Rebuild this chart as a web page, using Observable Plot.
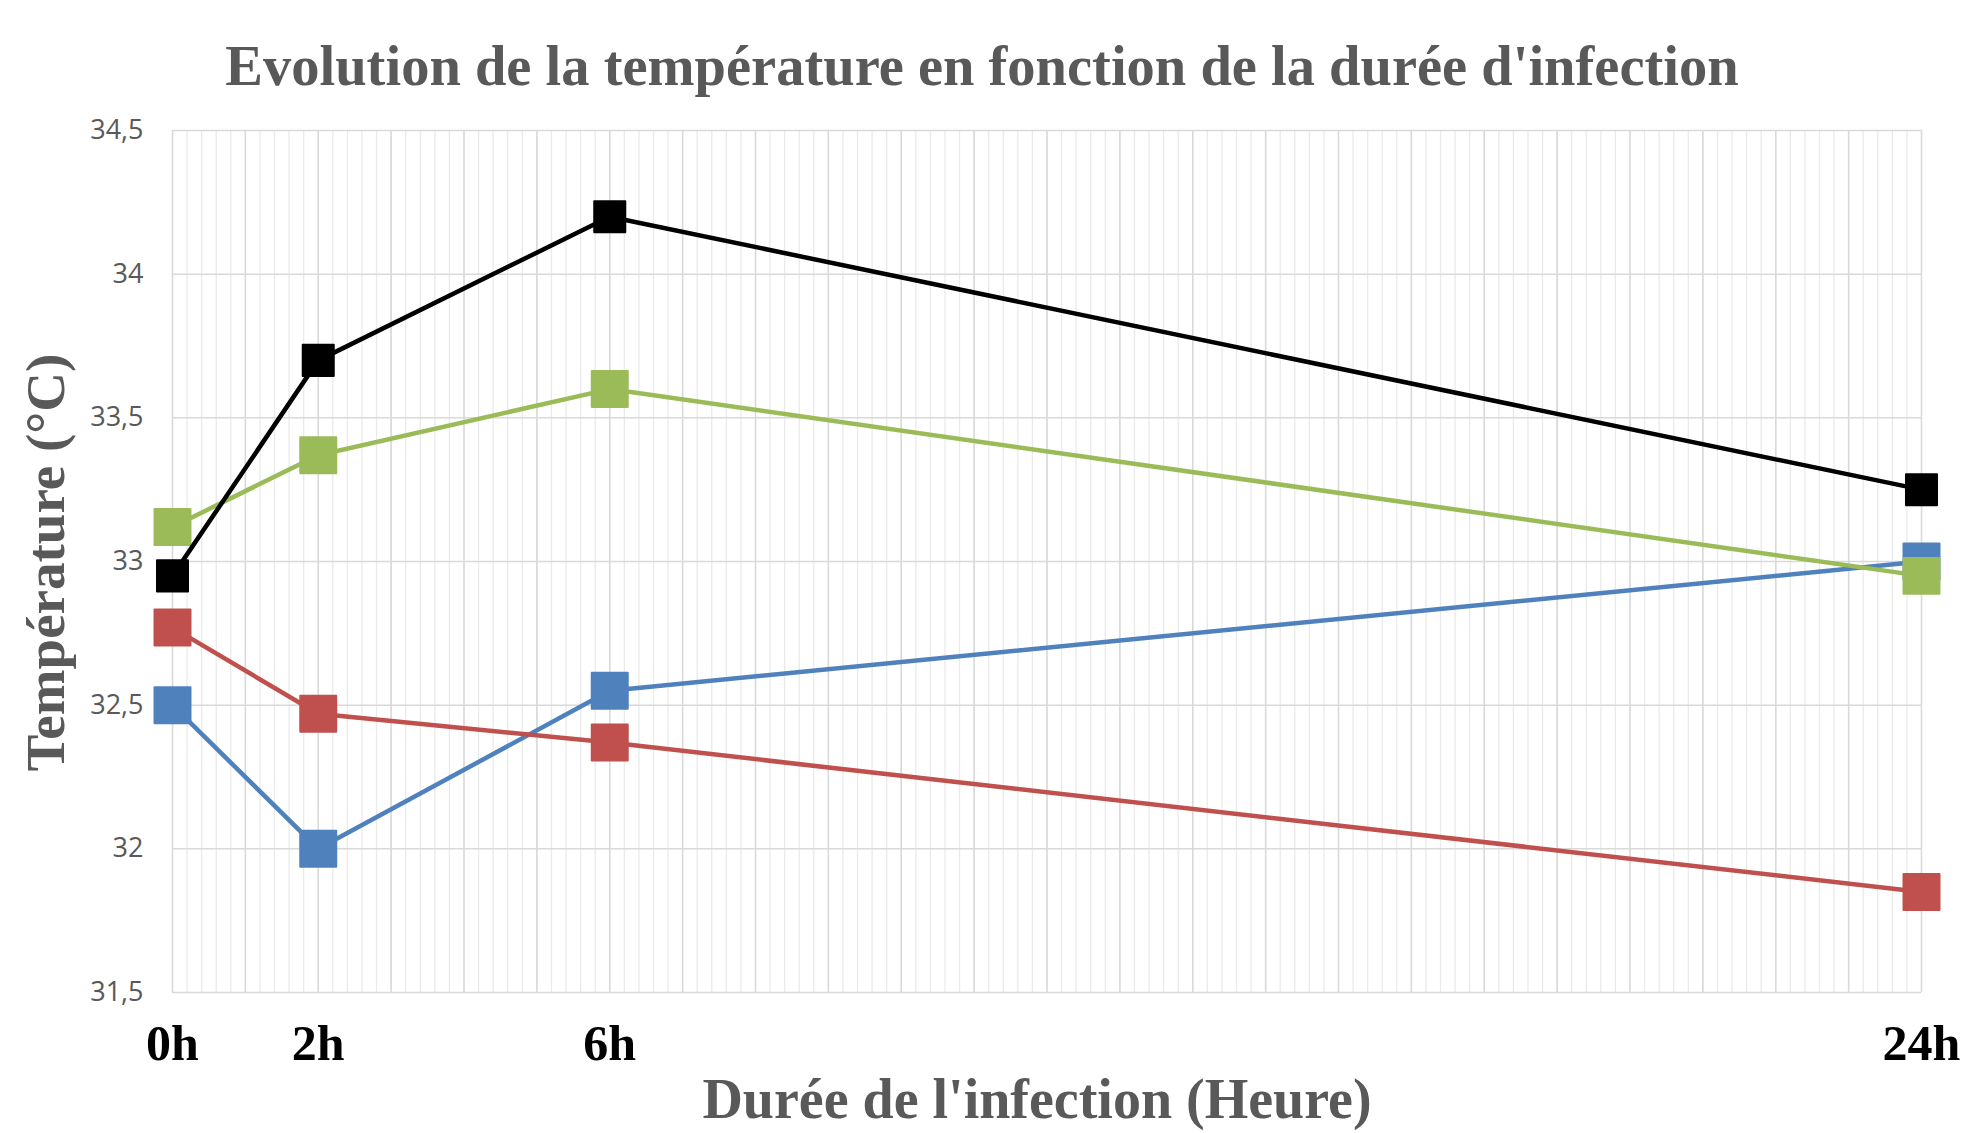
<!DOCTYPE html>
<html>
<head>
<meta charset="utf-8">
<script src="https://cdn.jsdelivr.net/npm/d3@7"></script>
<script src="https://cdn.jsdelivr.net/npm/@observablehq/plot@0.6"></script>
<style>
  html, body { margin: 0; padding: 0; background: #ffffff; }
  #chart { width: 1962px; height: 1133px; }
</style>
</head>
<body>
<div id="chart"></div>
<script>
// ---- Data ----
const hours = [0, 2, 6, 24];
const hourLabels = ["0h", "2h", "6h", "24h"];
const seriesBlue  = [32.50, 32.00, 32.55, 33.00];
const seriesRed   = [32.77, 32.47, 32.37, 31.85];
const seriesGreen = [33.12, 33.37, 33.60, 32.95];
const seriesBlack = [32.95, 33.70, 34.20, 33.25];
const yTicks = [31.5, 32, 32.5, 33, 33.5, 34, 34.5];
const yTickLabels = ["31,5", "32", "32,5", "33", "33,5", "34", "34,5"];
const majorHourTicks = d3.range(0, 25, 1);
const minorHourTicks = d3.range(0, 121, 1).map(i => i / 5);
const chartTitle = "Evolution de la température en fonction de la durée d'infection";
const xTitle = "Durée de l'infection (Heure)";
const yTitle = "Température (°C)";

const seriesList = [
  {name: "A", values: seriesBlue,  color: "#4f81bd", r: 20.3},
  {name: "B", values: seriesRed,   color: "#c0504d", r: 20.3},
  {name: "C", values: seriesGreen, color: "#9bbb59", r: 20.3},
  {name: "D", values: seriesBlack, color: "#000000", r: 17.5}
];

const serifFont = "'Liberation Serif', 'Times New Roman', serif";
const sansFont = "'Open Sans', 'Liberation Sans', sans-serif";
const grey = "#595959";

const seriesMarks = seriesList.flatMap(s => {
  const rows = hours.map((h, i) => ({hour: h, temp: s.values[i]}));
  return [
    Plot.line(rows, {x: "hour", y: "temp", stroke: s.color, strokeWidth: 4.5, strokeLinejoin: "round"}),
    Plot.dot(rows, {x: "hour", y: "temp", symbol: "square", r: s.r, fill: s.color, stroke: s.color, strokeWidth: 2, strokeLinejoin: "round"})
  ];
});

const chart = Plot.plot({
  width: 1962,
  height: 1133,
  marginLeft: 172,
  marginRight: 41,
  marginTop: 130,
  marginBottom: 141,
  style: {background: "#ffffff", fontFamily: sansFont},
  x: {type: "linear", domain: [0, 24]},
  y: {domain: [31.5, 34.5]},
  marks: [
    Plot.gridX(minorHourTicks, {stroke: "#eaeaea", strokeOpacity: 1, strokeWidth: 1.3}),
    Plot.gridX(majorHourTicks, {stroke: "#d9d9d9", strokeOpacity: 1, strokeWidth: 1.5}),
    Plot.gridY(yTicks, {stroke: "#d9d9d9", strokeOpacity: 1, strokeWidth: 1.5}),
    Plot.axisY(yTicks, {
      tickSize: 0, tickPadding: 29, label: null,
      tickFormat: d => yTickLabels[yTicks.indexOf(d)],
      fontSize: 27, fontFamily: sansFont, fill: grey
    }),
    Plot.axisX(hours, {
      tickSize: 0, tickPadding: 32, label: null,
      tickFormat: d => hourLabels[hours.indexOf(d)],
      fontSize: 50, fontFamily: serifFont, fontWeight: "bold", fill: "#000000"
    }),
    ...seriesMarks,
    Plot.text([chartTitle], {
      frameAnchor: "top", lineAnchor: "bottom", dx: -65, dy: -46,
      fontSize: 56.5, fontFamily: serifFont, fontWeight: "bold", fill: grey
    }),
    Plot.text([xTitle], {
      frameAnchor: "bottom", lineAnchor: "bottom", dx: -10, dy: 125,
      fontSize: 56, fontFamily: serifFont, fontWeight: "bold", fill: grey
    }),
    Plot.text([yTitle], {
      frameAnchor: "left", textAnchor: "middle", lineAnchor: "bottom", rotate: -90, dx: -109, dy: 1,
      fontSize: 55, fontFamily: serifFont, fontWeight: "bold", fill: grey
    })
  ]
});

document.getElementById("chart").appendChild(chart);
</script>
</body>
</html>
